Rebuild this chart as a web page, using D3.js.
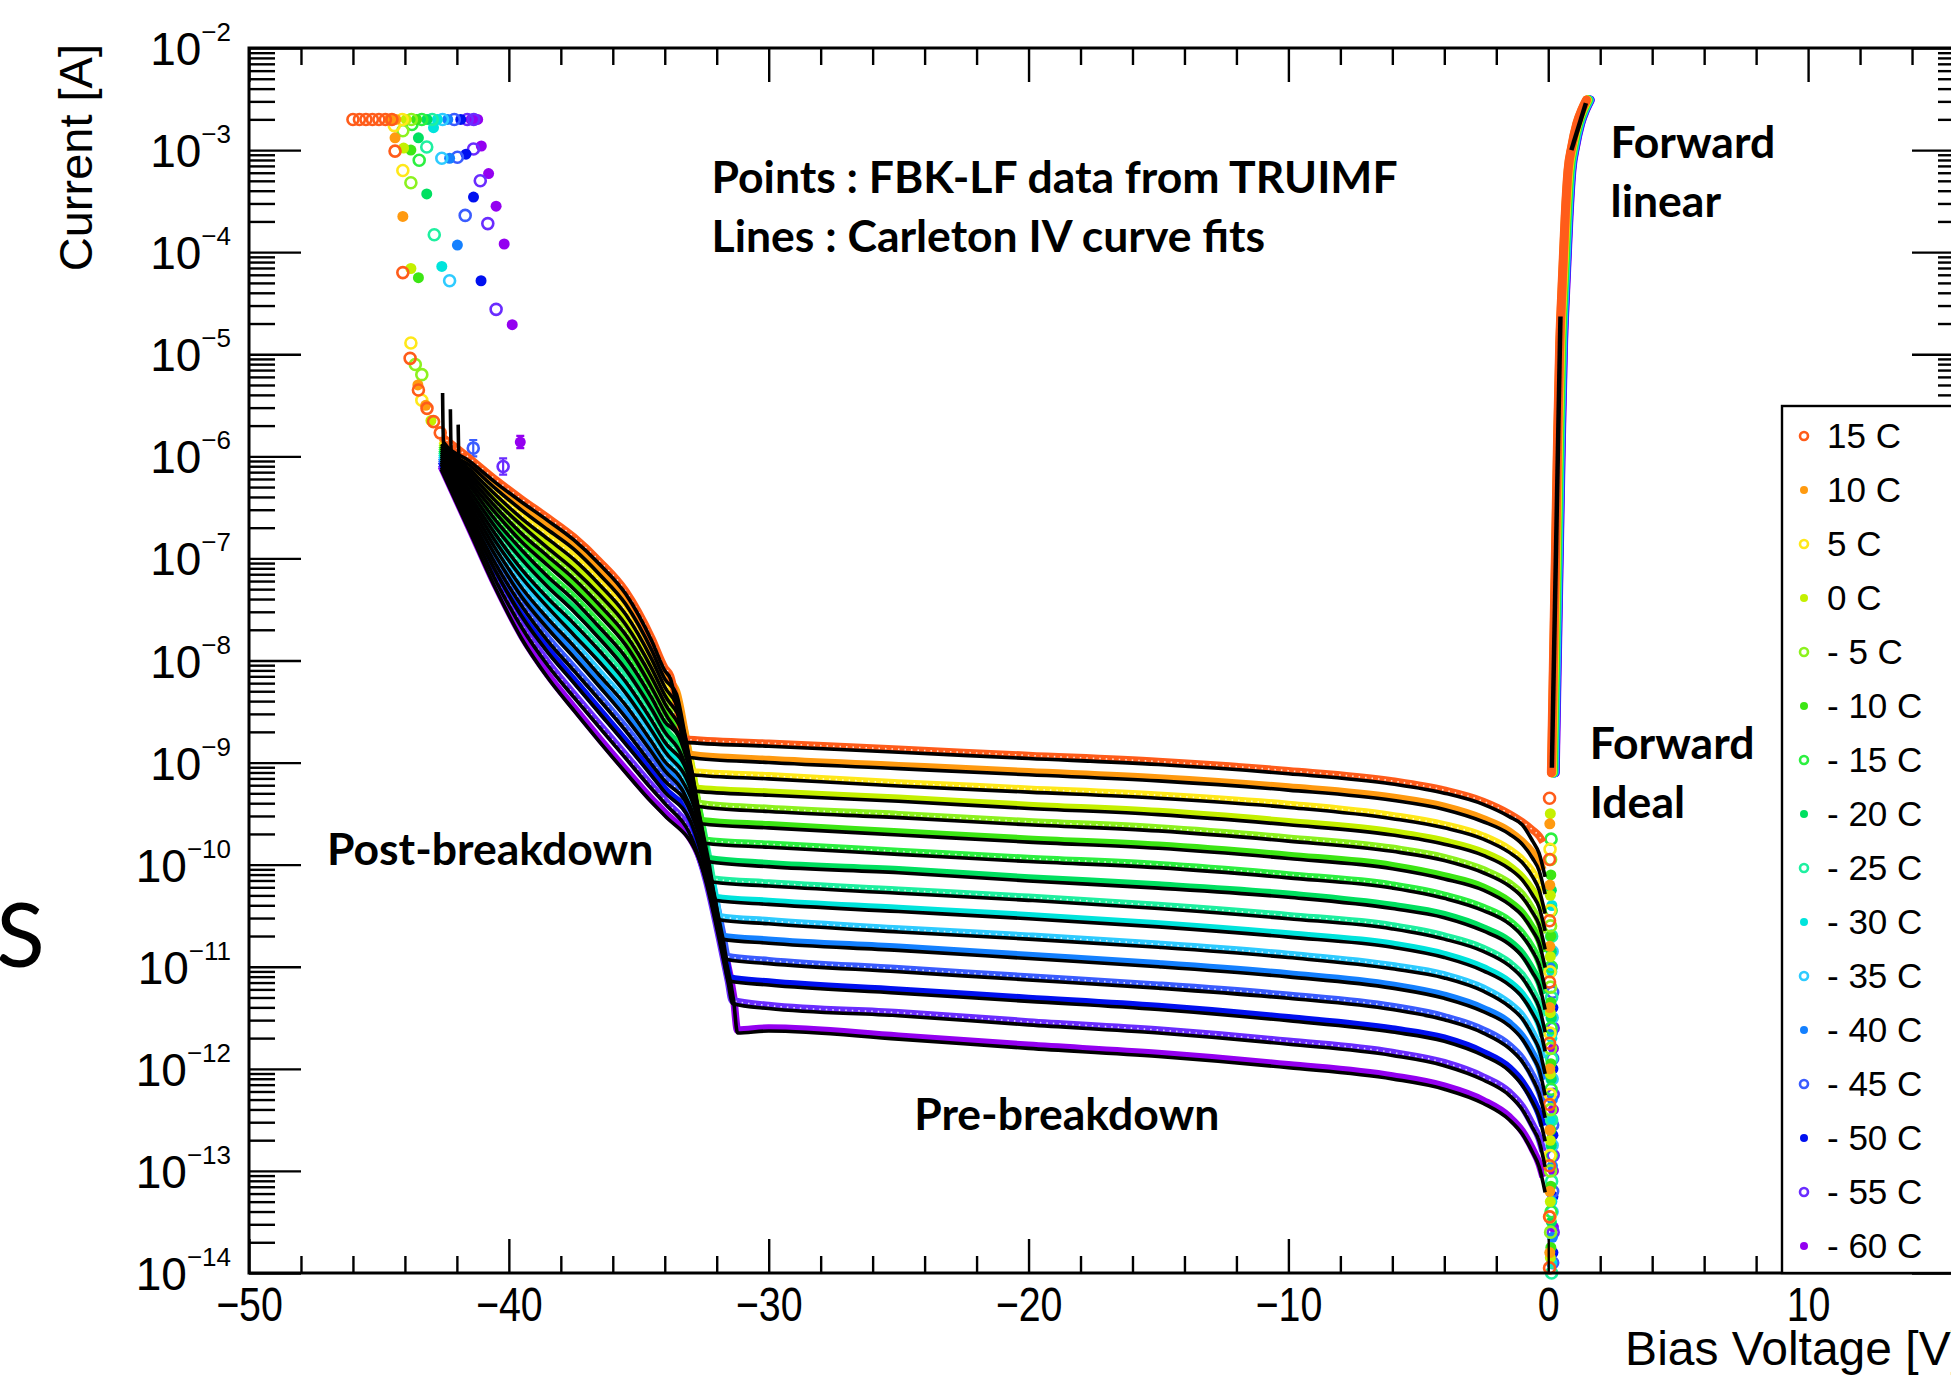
<!DOCTYPE html>
<html>
<head>
<meta charset="utf-8">
<script src="https://cdn.jsdelivr.net/npm/d3@7"></script>
<style>
  body { margin: 0; background: #fff; }
  svg { display: block; }
</style>
</head>
<body>
<div id="chart"></div>
<script>

// ---------------- data (currents are given as log10 of the current in A) ----------------
const temps = ["15 C", "10 C", "5 C", "0 C", "- 5 C", "- 10 C", "- 15 C", "- 20 C",
               "- 25 C", "- 30 C", "- 35 C", "- 40 C", "- 45 C", "- 50 C", "- 55 C", "- 60 C"];
const colors = ["#ff5c1a", "#ff9a10", "#ffe81a", "#c4f000", "#8cf21e", "#3ce614", "#2cf040", "#00e060",
                "#1ef0a0", "#00e4dc", "#2ecbff", "#1480ff", "#3a5cff", "#0010f0", "#6a2cff", "#9400f0"];
const hollow = [true, false, true, false, true, false, true, false,
                true, false, true, false, true, false, true, false];

// post-breakdown branch
const postV = [-42.6, -41.5, -40.5, -39.5, -38.5, -37.5, -36.5, -35.5, -34.5, -34.0];
const postLogI = [
  [-5.80, -6.02, -6.23, -6.42, -6.60, -6.79, -7.03, -7.32, -7.78, -8.07],
  [-5.82, -6.06, -6.29, -6.50, -6.69, -6.88, -7.13, -7.42, -7.87, -8.15],
  [-5.84, -6.10, -6.35, -6.58, -6.78, -6.98, -7.23, -7.52, -7.96, -8.23],
  [-5.85, -6.14, -6.41, -6.65, -6.87, -7.08, -7.33, -7.62, -8.05, -8.31],
  [-5.87, -6.18, -6.47, -6.73, -6.95, -7.17, -7.43, -7.72, -8.14, -8.39],
  [-5.89, -6.22, -6.53, -6.81, -7.04, -7.27, -7.53, -7.82, -8.24, -8.48],
  [-5.91, -6.26, -6.60, -6.89, -7.15, -7.38, -7.65, -7.94, -8.34, -8.57],
  [-5.93, -6.31, -6.67, -6.98, -7.25, -7.49, -7.76, -8.06, -8.45, -8.67],
  [-5.95, -6.36, -6.74, -7.08, -7.36, -7.61, -7.88, -8.18, -8.56, -8.77],
  [-5.97, -6.40, -6.81, -7.16, -7.45, -7.72, -7.99, -8.29, -8.66, -8.86],
  [-5.99, -6.45, -6.88, -7.26, -7.56, -7.83, -8.12, -8.41, -8.77, -8.96],
  [-6.01, -6.50, -6.95, -7.35, -7.66, -7.94, -8.23, -8.53, -8.87, -9.05],
  [-6.03, -6.55, -7.03, -7.44, -7.78, -8.07, -8.36, -8.66, -8.99, -9.15],
  [-6.05, -6.60, -7.10, -7.54, -7.89, -8.19, -8.49, -8.79, -9.10, -9.26],
  [-6.08, -6.65, -7.19, -7.65, -8.02, -8.33, -8.63, -8.93, -9.23, -9.37],
  [-6.10, -6.71, -7.27, -7.76, -8.14, -8.46, -8.77, -9.07, -9.36, -9.49]
];

// knee down to the breakdown voltage, [V, log10 I]
const kneePoints = [
  [[-33.78, -8.15], [-33.43, -8.58], [-33.28, -8.77]],
  [[-33.55, -8.30], [-33.20, -8.73], [-33.05, -8.92]],
  [[-33.45, -8.47], [-33.10, -8.90], [-32.95, -9.09]],
  [[-33.30, -8.63], [-32.95, -9.06], [-32.80, -9.25]],
  [[-33.20, -8.78], [-32.85, -9.21], [-32.70, -9.40]],
  [[-33.10, -8.95], [-32.75, -9.38], [-32.60, -9.57]],
  [[-33.45, -8.72], [-32.95, -9.14], [-32.60, -9.57], [-32.45, -9.76]],
  [[-33.35, -8.90], [-32.85, -9.32], [-32.50, -9.75], [-32.35, -9.94]],
  [[-33.15, -9.05], [-32.65, -9.52], [-32.30, -9.95], [-32.15, -10.14]],
  [[-33.05, -9.20], [-32.55, -9.70], [-32.20, -10.13], [-32.05, -10.32]],
  [[-33.40, -9.12], [-32.90, -9.38], [-32.40, -9.89], [-32.05, -10.32], [-31.90, -10.51]],
  [[-33.30, -9.25], [-32.80, -9.55], [-32.30, -10.08], [-31.95, -10.51], [-31.80, -10.70]],
  [[-33.10, -9.40], [-32.60, -9.75], [-32.10, -10.28], [-31.75, -10.71], [-31.60, -10.90]],
  [[-33.00, -9.55], [-32.50, -9.95], [-32.00, -10.49], [-31.65, -10.92], [-31.50, -11.11]],
  [[-32.90, -9.75], [-32.40, -10.15], [-31.90, -10.71], [-31.55, -11.14], [-31.40, -11.33]],
  [[-32.70, -9.90], [-32.20, -10.30], [-31.70, -10.85], [-31.35, -11.30], [-31.20, -11.62]]
];

// pre-breakdown plateau
const plateauV = [-30, -25, -20, -15, -10, -6, -4, -2.5, -1.5, -1, -0.6, -0.35, -0.2];
const plateauLogI = [
  [-8.81, -8.87, -8.93, -8.99, -9.08, -9.18, -9.27, -9.38, -9.50, -9.58, -9.66, -9.72, -9.78],
  [-8.97, -9.03, -9.09, -9.15, -9.24, -9.34, -9.43, -9.55, -9.67, -9.77, -9.88, -9.97, -10.05],
  [-9.13, -9.20, -9.26, -9.32, -9.41, -9.52, -9.61, -9.72, -9.85, -9.95, -10.07, -10.18, -10.27],
  [-9.29, -9.35, -9.42, -9.48, -9.58, -9.68, -9.77, -9.88, -10.01, -10.12, -10.25, -10.36, -10.46],
  [-9.45, -9.51, -9.58, -9.64, -9.74, -9.84, -9.93, -10.05, -10.18, -10.29, -10.44, -10.56, -10.68],
  [-9.61, -9.68, -9.75, -9.81, -9.91, -10.01, -10.11, -10.22, -10.36, -10.47, -10.62, -10.74, -10.86],
  [-9.80, -9.87, -9.94, -10.00, -10.10, -10.20, -10.30, -10.42, -10.55, -10.67, -10.82, -10.95, -11.07],
  [-9.99, -10.05, -10.13, -10.20, -10.29, -10.40, -10.49, -10.62, -10.75, -10.87, -11.03, -11.15, -11.27],
  [-10.18, -10.25, -10.32, -10.40, -10.50, -10.60, -10.70, -10.82, -10.96, -11.08, -11.24, -11.37, -11.49],
  [-10.36, -10.43, -10.50, -10.58, -10.68, -10.78, -10.88, -11.01, -11.15, -11.27, -11.43, -11.56, -11.68],
  [-10.55, -10.63, -10.70, -10.78, -10.88, -10.99, -11.08, -11.21, -11.36, -11.48, -11.65, -11.78, -11.90],
  [-10.74, -10.81, -10.89, -10.97, -11.07, -11.18, -11.28, -11.41, -11.55, -11.68, -11.85, -11.98, -12.11],
  [-10.94, -11.02, -11.10, -11.18, -11.28, -11.39, -11.49, -11.62, -11.77, -11.90, -12.07, -12.21, -12.33],
  [-11.15, -11.23, -11.31, -11.39, -11.50, -11.61, -11.70, -11.84, -11.99, -12.13, -12.30, -12.44, -12.56],
  [-11.38, -11.45, -11.54, -11.62, -11.73, -11.84, -11.94, -12.08, -12.23, -12.37, -12.55, -12.68, -12.81],
  [-11.60, -11.68, -11.77, -11.85, -11.96, -12.07, -12.17, -12.31, -12.47, -12.61, -12.79, -12.93, -13.06]
];

// tail of each fitted curve near 0 V: values at -0.6, -0.35 and -0.12 V
const fitTailV = [-0.6, -0.35, -0.12];
const fitTailLogI = [
  [-9.74, -9.86, -10.09], [-9.91, -10.03, -10.26], [-10.09, -10.22, -10.45], [-10.27, -10.39, -10.62],
  [-10.44, -10.56, -10.80], [-10.62, -10.74, -10.98], [-10.82, -10.95, -11.19], [-11.03, -11.15, -11.39],
  [-11.24, -11.37, -11.61], [-11.43, -11.56, -11.80], [-11.65, -11.78, -12.02], [-11.85, -11.98, -12.23],
  [-12.07, -12.21, -12.45], [-12.30, -12.44, -12.68], [-12.55, -12.68, -12.93], [-12.79, -12.93, -13.18]
];
// spikes at the start of the three warmest fits: [V, top, bottom]
const fitSpikes = [[-42.55, -5.35, -5.83], [-42.25, -5.51, -5.92], [-41.95, -5.66, -5.99]];

// scattered points above 1 uA (compliance is 2 mA), [V, log10 I, error]
const scatterPoints = [
  [[-46.0, -2.70], [-45.75, -2.70], [-45.5, -2.70], [-45.25, -2.70], [-45.0, -2.70], [-44.75, -2.70], [-44.5, -2.70],
   [-44.38, -3.01], [-44.08, -4.20], [-43.8, -5.04], [-43.48, -5.35], [-43.15, -5.53], [-42.9, -5.66], [-42.64, -5.77]],
  [[-44.6, -2.70], [-44.35, -2.70], [-44.38, -2.88], [-44.08, -3.65], [-43.5, -5.30], [-43.2, -5.50]],
  [[-44.1, -2.70], [-44.41, -2.76], [-44.08, -3.20], [-43.77, -4.89], [-43.35, -5.45]],
  [[-43.95, -2.70], [-44.05, -2.98], [-43.77, -4.16], [-43.0, -5.65]],
  [[-43.75, -2.70], [-44.08, -2.81], [-43.77, -3.32], [-43.6, -5.10], [-43.35, -5.20]],
  [[-43.55, -2.70], [-43.77, -3.00], [-43.48, -4.25]],
  [[-43.35, -2.70], [-43.73, -2.75], [-43.45, -3.10]],
  [[-43.15, -2.70], [-43.48, -2.88], [-43.16, -3.43]],
  [[-42.95, -2.70], [-43.16, -2.97], [-42.87, -3.83]],
  [[-42.75, -2.70], [-42.9, -2.78], [-42.58, -4.14]],
  [[-42.55, -2.70], [-42.58, -3.08], [-42.28, -4.28]],
  [[-42.35, -2.70], [-42.28, -3.08], [-41.98, -3.93]],
  [[-42.1, -2.70], [-41.98, -3.07], [-41.68, -3.64], [-41.37, -5.92, 0.08]],
  [[-41.85, -2.70], [-41.65, -3.04], [-41.36, -3.46], [-41.07, -4.28]],
  [[-41.6, -2.70], [-41.35, -2.70], [-41.36, -2.99], [-41.10, -3.30], [-40.81, -3.72], [-40.49, -4.56], [-40.22, -6.10, 0.08]],
  [[-41.45, -2.70], [-41.2, -2.70], [-41.06, -2.96], [-40.78, -3.23], [-40.49, -3.55], [-40.18, -3.92], [-39.87, -4.71], [-39.56, -5.86, 0.06]]
];

// points sitting at ~0 V (current below the noise floor)
const columnLogI = [
  [-9.35, -9.95, -10.55, -11.15, -11.75, -12.35, -12.95, -13.45, -13.95],
  [-9.6, -10.2, -10.8, -11.4, -12.0, -12.6, -13.2, -13.8],
  [-9.85, -10.45, -11.05, -11.65, -12.25, -12.85, -13.45],
  [-9.5, -10.3, -10.9, -11.45, -12.05, -12.7, -13.3, -13.85],
  [-9.95, -10.6, -11.2, -11.8, -12.4, -13.0, -13.6],
  [-10.1, -10.7, -11.35, -11.95, -12.6, -13.15, -13.75],
  [-9.75, -10.45, -11.0, -11.6, -12.2, -12.85, -13.4],
  [-10.25, -10.85, -11.5, -12.1, -12.75, -13.5],
  [-10.7, -11.3, -11.9, -12.5, -13.1, -14.0],
  [-10.4, -11.05, -11.7, -12.5, -13.3, -13.9],
  [-10.85, -11.5, -12.1, -12.75, -13.4],
  [-11.0, -11.65, -12.3, -12.95, -13.65],
  [-11.25, -11.9, -12.55, -13.2, -13.9],
  [-11.4, -12.0, -12.65, -13.25, -13.8],
  [-11.6, -12.25, -12.85, -13.6],
  [-11.8, -12.4, -13.0, -13.55]
];

// forward branch (15 C), colder curves sit slightly to the right
const fwdV = [0.12, 0.20, 0.28, 0.36, 0.44, 0.51, 0.58, 0.65, 0.76, 0.90, 1.10, 1.30, 1.47];
const fwdLogI = [-9.10, -8.00, -6.90, -5.80, -4.90, -4.45, -4.05, -3.65, -3.20, -2.97, -2.74, -2.60, -2.51];
const fwdShift = [0, 0.01, 0.02, 0.03, 0.04, 0.05, 0.06, 0.07, 0.08, 0.09, 0.10, 0.11, 0.12, 0.13, 0.14, 0.15];
const fwdIdealFit = [[0.14, -9.05], [0.47, -4.63]];
const fwdLinearFit = [[0.89, -3.00], [1.45, -2.54]];

const xMajorTicks = [-50, -40, -30, -20, -10, 0, 10];
const yDecades = [-14, -13, -12, -11, -10, -9, -8, -7, -6, -5, -4, -3, -2];

const notes = [
  { text: "Points : FBK-LF data from TRUIMF", x: -32.2, y: -3.42 },
  { text: "Lines : Carleton IV curve fits", x: -32.2, y: -4.0 },
  { text: "Forward", x: 2.4, y: -3.08 },
  { text: "linear", x: 2.4, y: -3.66 },
  { text: "Forward", x: 1.6, y: -8.96 },
  { text: "Ideal", x: 1.6, y: -9.54 },
  { text: "Post-breakdown", x: -47.0, y: -10.0 },
  { text: "Pre-breakdown", x: -24.4, y: -12.6 }
];


class IVChart {
    constructor(element) {
        this.parentElement = element;
        this.initVis();
    }

    initVis() {
        const vis = this;

        vis.WIDTH = 1951;
        vis.HEIGHT = 1375;
        vis.FRAME = { LEFT: 249, RIGHT: 1964, TOP: 48, BOTTOM: 1273 };

        vis.svg = d3.select(vis.parentElement).append("svg")
            .attr("width", vis.WIDTH)
            .attr("height", vis.HEIGHT);

        vis.x = d3.scaleLinear().domain([-50, 16]).range([vis.FRAME.LEFT, vis.FRAME.RIGHT]);
        vis.y = d3.scaleLog().domain([1e-14, 1e-2]).range([vis.FRAME.BOTTOM, vis.FRAME.TOP]);

        vis.line = d3.line()
            .x(d => vis.x(d[0]))
            .y(d => vis.y(Math.pow(10, d[1])))
            .curve(d3.curveMonotoneX);

        vis.plot = vis.svg.append("g");

        vis.drawData();
        vis.drawAxes();
        vis.drawLegend();
        vis.drawText();
    }

    reversePoints(k) {
        const post = postV.map((v, j) => [v, postLogI[k][j]]);
        const plateau = plateauV.map((v, j) => [v, plateauLogI[k][j]]);
        return post.concat(kneePoints[k], plateau);
    }

    fitPoints(k) {
        const vis = this;
        let pts = vis.reversePoints(k).filter(p => p[0] <= -1);
        pts = pts.concat(fitTailV.map((v, j) => [v, fitTailLogI[k][j]]));
        if (k < fitSpikes.length) {
            const s = fitSpikes[k];
            pts = [[s[0], s[1]], [s[0] + 0.03, s[2]]].concat(pts.filter(p => p[0] > s[0] + 0.03));
        }
        return pts;
    }

    marker(sel, k, r) {
        sel.attr("r", r)
            .attr("fill", hollow[k] ? "none" : colors[k])
            .attr("stroke", hollow[k] ? colors[k] : "none")
            .attr("stroke-width", 2.6);
    }

    drawData() {
        const vis = this;
        const order = d3.range(temps.length).reverse();   // coldest first, 15 C on top

        // measured points drawn as dense bands
        order.forEach(k => {
            const g = vis.plot.append("g");
            g.append("path")
                .attr("d", vis.line(vis.reversePoints(k)))
                .attr("fill", "none")
                .attr("stroke", colors[k])
                .attr("stroke-width", 7.5)
                .attr("stroke-linejoin", "round");
            if (hollow[k]) {
                g.append("path")
                    .attr("d", vis.line(vis.reversePoints(k)))
                    .attr("fill", "none")
                    .attr("stroke", "#fff")
                    .attr("stroke-width", 1.6)
                    .attr("stroke-dasharray", "1.5 5")
                    .attr("opacity", 0.8);
            }

            // scattered points with error bars
            scatterPoints[k].forEach(p => {
                const cx = vis.x(p[0]), cy = vis.y(Math.pow(10, p[1]));
                if (p[2]) {
                    const y0 = vis.y(Math.pow(10, p[1] - p[2])), y1 = vis.y(Math.pow(10, p[1] + p[2]));
                    g.append("path")
                        .attr("d", `M${cx},${y0}V${y1}M${cx - 4},${y0}H${cx + 4}M${cx - 4},${y1}H${cx + 4}`)
                        .attr("stroke", colors[k]).attr("stroke-width", 2.2);
                }
                g.append("circle").attr("cx", cx).attr("cy", cy).call(s => vis.marker(s, k, 5.5));
            });

            // the ~0 V column
            columnLogI[k].forEach(l => {
                g.append("circle")
                    .attr("cx", vis.x(0.05 + fwdShift[k]))
                    .attr("cy", vis.y(Math.pow(10, l)))
                    .call(s => vis.marker(s, k, 5.5));
            });
        });

        // forward branch
        order.forEach(k => {
            const pts = fwdV.map((v, j) => [v + fwdShift[k], fwdLogI[j]]);
            vis.plot.append("path")
                .attr("d", vis.line(pts))
                .attr("fill", "none")
                .attr("stroke", colors[k])
                .attr("stroke-width", 9)
                .attr("stroke-linecap", "round");
        });

        // fitted curves
        const fits = vis.plot.append("g")
            .attr("fill", "none")
            .attr("stroke", "#000")
            .attr("stroke-width", 3.6);
        order.forEach(k => {
            fits.append("path")
                .attr("transform", "translate(0,3)")
                .attr("d", vis.line(vis.fitPoints(k)));
        });
        fits.append("path").attr("d", vis.line(fwdIdealFit)).attr("stroke-width", 4.5);
        fits.append("path").attr("d", vis.line(fwdLinearFit)).attr("stroke-width", 4.5);
    }

    drawAxes() {
        const vis = this;
        const F = vis.FRAME;
        const xMinor = d3.range(-50, 17, 2).filter(v => v % 10 !== 0);
        const yMinor = [];
        yDecades.slice(0, -1).forEach(n => d3.range(2, 10).forEach(m => yMinor.push(m * Math.pow(10, n))));
        const yMajor = yDecades.map(n => Math.pow(10, n));

        const style = g => {
            g.select(".domain").remove();
            g.selectAll("line").attr("stroke", "#000").attr("stroke-width", 2.4);
        };

        // ticks pointing into the frame
        vis.svg.append("g").attr("transform", `translate(0,${F.BOTTOM})`)
            .call(d3.axisBottom(vis.x).tickValues(xMinor).tickSize(-17).tickFormat("")).call(style);
        vis.svg.append("g").attr("transform", `translate(0,${F.TOP})`)
            .call(d3.axisTop(vis.x).tickValues(xMinor).tickSize(-17).tickFormat("")).call(style);
        vis.svg.append("g").attr("transform", `translate(0,${F.TOP})`)
            .call(d3.axisTop(vis.x).tickValues(xMajorTicks).tickSize(-34).tickFormat("")).call(style);
        vis.svg.append("g").attr("transform", `translate(${F.LEFT},0)`)
            .call(d3.axisLeft(vis.y).tickValues(yMinor).tickSize(-26).tickFormat("")).call(style);
        vis.svg.append("g").attr("transform", `translate(${F.LEFT},0)`)
            .call(d3.axisLeft(vis.y).tickValues(yMajor).tickSize(-52).tickFormat("")).call(style);
        vis.svg.append("g").attr("transform", `translate(${F.RIGHT},0)`)
            .call(d3.axisRight(vis.y).tickValues(yMinor).tickSize(-26).tickFormat("")).call(style);
        vis.svg.append("g").attr("transform", `translate(${F.RIGHT},0)`)
            .call(d3.axisRight(vis.y).tickValues(yMajor).tickSize(-52).tickFormat("")).call(style);

        const xAxis = vis.svg.append("g").attr("transform", `translate(0,${F.BOTTOM})`)
            .call(d3.axisBottom(vis.x).tickValues(xMajorTicks).tickSize(-34).tickPadding(14)
                .tickFormat(d => d < 0 ? "\u2212" + (-d) : d))
            .call(style);
        xAxis.selectAll("text")
            .attr("fill", "#000")
            .attr("font-family", "'Liberation Sans', Arial, sans-serif")
            .attr("font-size", 48)
            .attr("transform", "scale(0.82,1)");

        // frame
        vis.svg.append("rect")
            .attr("x", F.LEFT).attr("y", F.TOP)
            .attr("width", F.RIGHT - F.LEFT).attr("height", F.BOTTOM - F.TOP)
            .attr("fill", "none").attr("stroke", "#000").attr("stroke-width", 3);

        // y labels 10^n
        const yLab = vis.svg.append("g")
            .attr("font-family", "'Liberation Sans', Arial, sans-serif")
            .attr("fill", "#000");
        yDecades.forEach(n => {
            const t = yLab.append("text")
                .attr("x", 231)
                .attr("y", vis.y(Math.pow(10, n)) + 17)
                .attr("text-anchor", "end")
                .attr("font-size", 46);
            t.append("tspan").text("10");
            t.append("tspan").attr("dy", -24).attr("font-size", 26).text("\u2212" + (-n));
        });

        // axis titles
        vis.svg.append("text")
            .attr("transform", `translate(92,${F.TOP - 4}) rotate(-90)`)
            .attr("text-anchor", "end")
            .attr("font-family", "'Liberation Sans', Arial, sans-serif")
            .attr("font-size", 47)
            .text("Current [A]");
        vis.svg.append("text")
            .attr("x", F.RIGHT)
            .attr("y", 1365)
            .attr("text-anchor", "end")
            .attr("font-family", "'Liberation Sans', Arial, sans-serif")
            .attr("font-size", 48)
            .text("Bias Voltage [V]");
    }

    drawLegend() {
        const vis = this;
        const L = { LEFT: 1782, TOP: 406, ROW: 54 };
        const g = vis.svg.append("g");
        g.append("rect")
            .attr("x", L.LEFT).attr("y", L.TOP)
            .attr("width", 260).attr("height", vis.FRAME.BOTTOM - L.TOP)
            .attr("fill", "#fff").attr("stroke", "#000").attr("stroke-width", 2.4);

        const rows = g.selectAll("g.row")
            .data(temps)
            .enter().append("g")
            .attr("class", "row")
            .attr("transform", (d, i) => `translate(${L.LEFT},${L.TOP + 30 + i * L.ROW})`);
        rows.append("circle")
            .attr("cx", 22)
            .attr("cy", 0)
            .each(function(d, i) { vis.marker(d3.select(this), i, 4); });
        rows.append("text")
            .attr("x", 45)
            .attr("y", 12)
            .attr("font-family", "'Liberation Sans', Arial, sans-serif")
            .attr("font-size", 35)
            .text(d => d);
    }

    drawText() {
        const vis = this;
        vis.svg.append("g")
            .attr("font-family", "Lato, 'Open Sans', sans-serif")
            .attr("font-weight", 700)
            .attr("font-size", 44.5)
            .selectAll("text")
            .data(notes)
            .enter().append("text")
            .attr("x", d => vis.x(d.x))
            .attr("y", d => vis.y(Math.pow(10, d.y)))
            .text(d => d.text);

        // edge of the slide text next to the plot
        vis.svg.append("text")
            .attr("x", -4)
            .attr("y", 967)
            .attr("font-family", "Lato, 'Open Sans', sans-serif")
            .attr("font-size", 90)
            .text("S");
    }
}

new IVChart("#chart");
</script>
</body>
</html>
